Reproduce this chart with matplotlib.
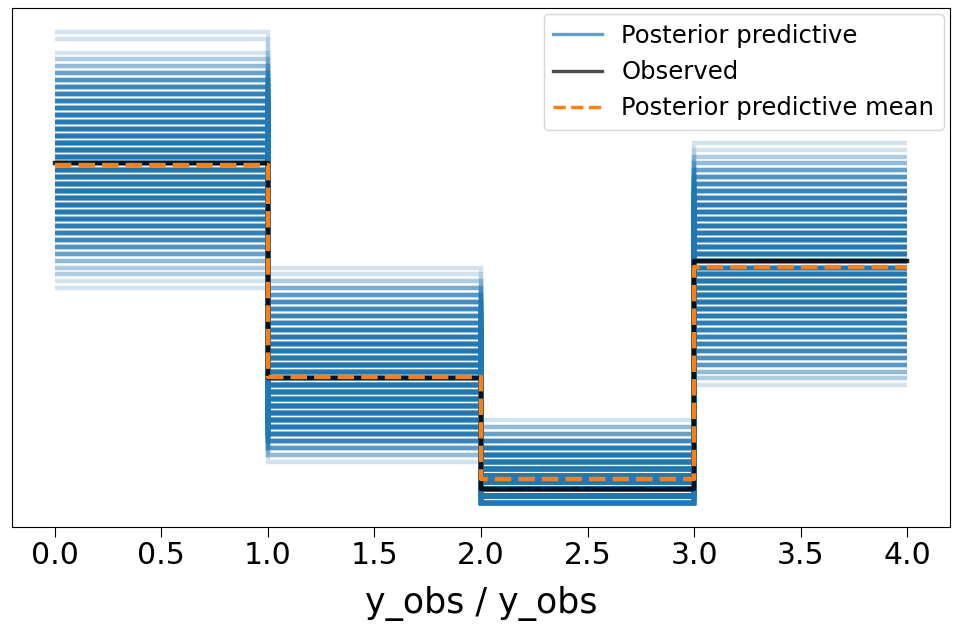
import numpy as np
import matplotlib
matplotlib.use("Agg")
import matplotlib.pyplot as plt
from matplotlib.lines import Line2D

# observed values per category (0..3), counts out of n_obs
n_obs = 200
bin_edges = [0, 1, 2, 3, 4]
observed_counts = [73, 42, 26, 59]

# posterior predictive draws: count level in each category and number of draws at that level
bin0_levels = list(range(55, 93))
bin0_draws = [1, 1, 2, 2, 3, 5, 7, 9, 11, 13, 15, 16, 17, 18, 19, 19, 20, 20, 20,
              19, 19, 18, 17, 16, 15, 14, 13, 12, 10, 9, 7, 5, 3, 2, 1, 0, 1, 1]

bin1_levels = list(range(30, 59))
bin1_draws = [1, 3, 6, 10, 14, 17, 21, 23, 24, 25, 25, 25, 24, 23, 23, 21, 18, 17,
              15, 13, 11, 10, 9, 8, 6, 4, 2, 1, 1]

bin2_levels = list(range(24, 37))
bin2_draws = [35, 60, 70, 62, 50, 40, 30, 21, 14, 9, 5, 3, 1]

bin3_levels = list(range(41, 77))
bin3_draws = [1, 2, 3, 6, 7, 9, 10, 11, 11, 12, 14, 15, 17, 18, 18, 19, 19, 19, 18,
              18, 17, 16, 15, 15, 14, 14, 13, 11, 10, 9, 7, 5, 3, 2, 1, 1]

levels = [bin0_levels, bin1_levels, bin2_levels, bin3_levels]
draws = [bin0_draws, bin1_draws, bin2_draws, bin3_draws]

# each draw becomes one step line (densities = count / n_obs)
pp = np.stack([np.repeat(lv, dr) for lv, dr in zip(levels, draws)], axis=1) / n_obs
pp = np.concatenate([pp[:, :1], pp], axis=1)
pp_mean = pp.mean(axis=0)
obs = np.array(observed_counts) / n_obs
obs = np.concatenate([obs[:1], obs])

fig = plt.figure(figsize=(9.63, 6.25), dpi=100)
ax = fig.add_axes([0.0125, 0.157, 0.974, 0.830])

lw = 3.2
for row in pp:
    ax.plot(bin_edges, row, drawstyle="steps-pre", color="C0", alpha=0.2, lw=lw,
            solid_joinstyle="miter", solid_capstyle="butt")
ax.plot(bin_edges, obs, drawstyle="steps-pre", color="k", alpha=0.85, lw=lw)
ax.plot(bin_edges, pp_mean, drawstyle="steps-pre", color="C1", ls="--", lw=lw)

ax.set_yticks([])
ax.tick_params(axis="x", labelsize=21.5, length=7)
ax.set_xlabel("y_obs / y_obs", fontsize=25, labelpad=11)

handles = [Line2D([], [], color="C0", alpha=0.7, lw=2.4),
           Line2D([], [], color="k", alpha=0.7, lw=2.4),
           Line2D([], [], color="C1", ls="--", lw=2.4)]
ax.legend(handles, ["Posterior predictive", "Observed", "Posterior predictive mean"],
          loc="upper right", fontsize=17.5, borderaxespad=0.25)

fig.savefig("out.png", dpi=100)
